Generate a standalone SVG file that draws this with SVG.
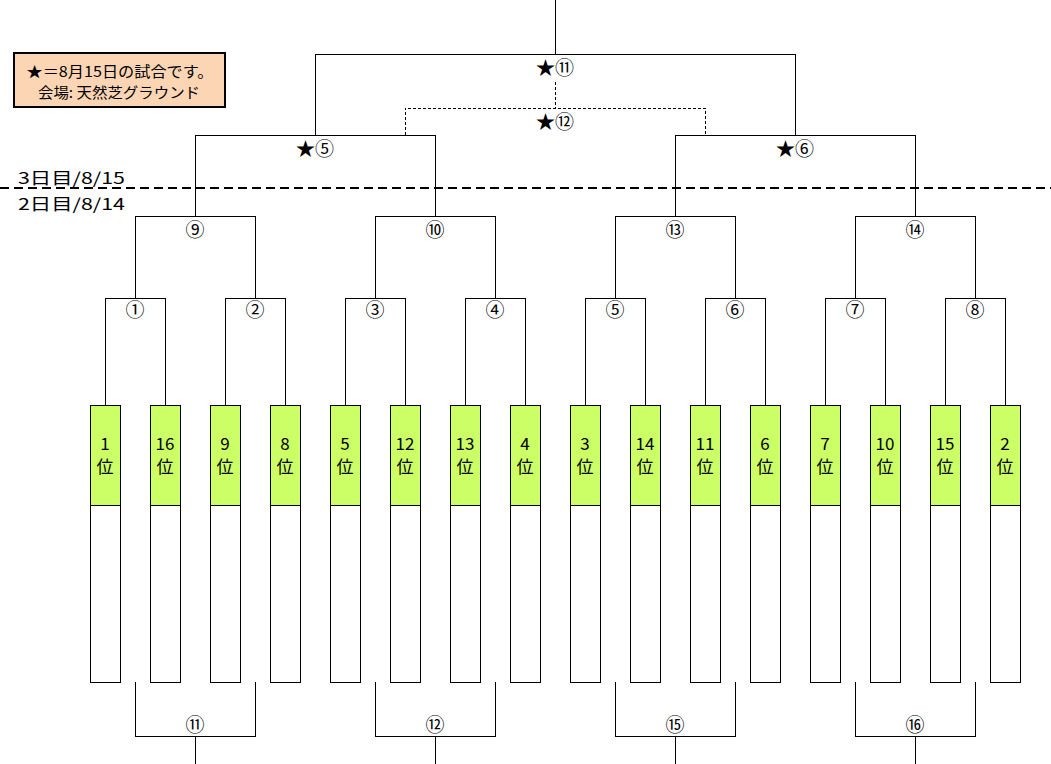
<svg xmlns="http://www.w3.org/2000/svg" width="1051" height="764" viewBox="0 0 1051 764">
<style>
.ln{stroke:#000;stroke-width:1;fill:none;shape-rendering:crispEdges}
.dl{stroke:#000;stroke-width:1;fill:none;stroke-dasharray:3 2;shape-rendering:crispEdges}
.t{font-family:"Noto Sans CJK JP","Noto Sans CJK SC",sans-serif;fill:#000;text-anchor:middle}
.lb{font-size:19px}
.tm{font-size:17px}
.g{fill:#CCFF66;stroke:#000;stroke-width:1;shape-rendering:crispEdges}
.w{fill:#fff;stroke:#000;stroke-width:1;shape-rendering:crispEdges}
</style>
<rect width="1051" height="764" fill="#fff"/>
<g id="legend">
<rect x="14" y="53" width="211" height="54" fill="#FCD5B4" stroke="#000" stroke-width="2" shape-rendering="crispEdges"/>
<text class="t" x="120" y="77" font-size="15" textLength="187" lengthAdjust="spacingAndGlyphs">★＝8月15日の試合です。</text>
<text class="t" x="119" y="98" font-size="15" textLength="162" lengthAdjust="spacingAndGlyphs">会場: 天然芝グラウンド</text>
</g>
<g id="daydivider">
<line x1="0" y1="188" x2="1051" y2="188" stroke="#000" stroke-width="2" stroke-dasharray="9 5" shape-rendering="crispEdges"/>
<text class="t" x="18" y="184" font-size="16" style="text-anchor:start" textLength="107" lengthAdjust="spacingAndGlyphs">3日目/8/15</text>
<text class="t" x="18" y="210" font-size="16" style="text-anchor:start" textLength="107" lengthAdjust="spacingAndGlyphs">2日目/8/14</text>
</g>
<g id="connectors">
<path class="ln" d="M555 0V54M315 135V54H795V135"/>
<path class="dl" d="M555 82V108M405 135V108H705V135"/>
<path class="ln" d="M195 216V135H435V216M675 216V135H915V216"/>
<path class="ln" d="M135 298V216H255V298M375 298V216H495V298M615 298V216H735V298M855 298V216H975V298"/>
<path class="ln" d="M105 405V298H165V405M225 405V298H285V405M345 405V298H405V405M465 405V298H525V405M585 405V298H645V405M705 405V298H765V405M825 405V298H885V405M945 405V298H1005V405"/>
<path class="ln" d="M135 682V736H255V682M195 736V764M375 682V736H495V682M435 736V764M615 682V736H735V682M675 736V764M855 682V736H975V682M915 736V764"/>
</g>
<g id="match-labels" class="t lb">
<text x="555" y="74.5">★⑪</text>
<text x="555" y="128.5">★⑫</text>
<text x="315" y="155.5">★⑤</text>
<text x="795" y="155.5">★⑥</text>
<text x="195" y="236.5">⑨</text>
<text x="435" y="236.5">⑩</text>
<text x="675" y="236.5">⑬</text>
<text x="915" y="236.5">⑭</text>
<text x="135" y="316.5">①</text>
<text x="255" y="316.5">②</text>
<text x="375" y="316.5">③</text>
<text x="495" y="316.5">④</text>
<text x="615" y="316.5">⑤</text>
<text x="735" y="316.5">⑥</text>
<text x="855" y="316.5">⑦</text>
<text x="975" y="316.5">⑧</text>
<text x="195" y="731.5">⑪</text>
<text x="435" y="731.5">⑫</text>
<text x="675" y="731.5">⑮</text>
<text x="915" y="731.5">⑯</text>
</g>
<g id="team1"><rect class="w" x="90" y="505" width="30" height="177"/><rect class="g" x="90" y="405" width="30" height="100"/><text class="t tm" x="105" y="450">1</text><text class="t tm" x="105" y="473">位</text></g>
<g id="team2"><rect class="w" x="150" y="505" width="30" height="177"/><rect class="g" x="150" y="405" width="30" height="100"/><text class="t tm" x="165" y="450">16</text><text class="t tm" x="165" y="473">位</text></g>
<g id="team3"><rect class="w" x="210" y="505" width="30" height="177"/><rect class="g" x="210" y="405" width="30" height="100"/><text class="t tm" x="225" y="450">9</text><text class="t tm" x="225" y="473">位</text></g>
<g id="team4"><rect class="w" x="270" y="505" width="30" height="177"/><rect class="g" x="270" y="405" width="30" height="100"/><text class="t tm" x="285" y="450">8</text><text class="t tm" x="285" y="473">位</text></g>
<g id="team5"><rect class="w" x="330" y="505" width="30" height="177"/><rect class="g" x="330" y="405" width="30" height="100"/><text class="t tm" x="345" y="450">5</text><text class="t tm" x="345" y="473">位</text></g>
<g id="team6"><rect class="w" x="390" y="505" width="30" height="177"/><rect class="g" x="390" y="405" width="30" height="100"/><text class="t tm" x="405" y="450">12</text><text class="t tm" x="405" y="473">位</text></g>
<g id="team7"><rect class="w" x="450" y="505" width="30" height="177"/><rect class="g" x="450" y="405" width="30" height="100"/><text class="t tm" x="465" y="450">13</text><text class="t tm" x="465" y="473">位</text></g>
<g id="team8"><rect class="w" x="510" y="505" width="30" height="177"/><rect class="g" x="510" y="405" width="30" height="100"/><text class="t tm" x="525" y="450">4</text><text class="t tm" x="525" y="473">位</text></g>
<g id="team9"><rect class="w" x="570" y="505" width="30" height="177"/><rect class="g" x="570" y="405" width="30" height="100"/><text class="t tm" x="585" y="450">3</text><text class="t tm" x="585" y="473">位</text></g>
<g id="team10"><rect class="w" x="630" y="505" width="30" height="177"/><rect class="g" x="630" y="405" width="30" height="100"/><text class="t tm" x="645" y="450">14</text><text class="t tm" x="645" y="473">位</text></g>
<g id="team11"><rect class="w" x="690" y="505" width="30" height="177"/><rect class="g" x="690" y="405" width="30" height="100"/><text class="t tm" x="705" y="450">11</text><text class="t tm" x="705" y="473">位</text></g>
<g id="team12"><rect class="w" x="750" y="505" width="30" height="177"/><rect class="g" x="750" y="405" width="30" height="100"/><text class="t tm" x="765" y="450">6</text><text class="t tm" x="765" y="473">位</text></g>
<g id="team13"><rect class="w" x="810" y="505" width="30" height="177"/><rect class="g" x="810" y="405" width="30" height="100"/><text class="t tm" x="825" y="450">7</text><text class="t tm" x="825" y="473">位</text></g>
<g id="team14"><rect class="w" x="870" y="505" width="30" height="177"/><rect class="g" x="870" y="405" width="30" height="100"/><text class="t tm" x="885" y="450">10</text><text class="t tm" x="885" y="473">位</text></g>
<g id="team15"><rect class="w" x="930" y="505" width="30" height="177"/><rect class="g" x="930" y="405" width="30" height="100"/><text class="t tm" x="945" y="450">15</text><text class="t tm" x="945" y="473">位</text></g>
<g id="team16"><rect class="w" x="990" y="505" width="30" height="177"/><rect class="g" x="990" y="405" width="30" height="100"/><text class="t tm" x="1005" y="450">2</text><text class="t tm" x="1005" y="473">位</text></g>
</svg>
